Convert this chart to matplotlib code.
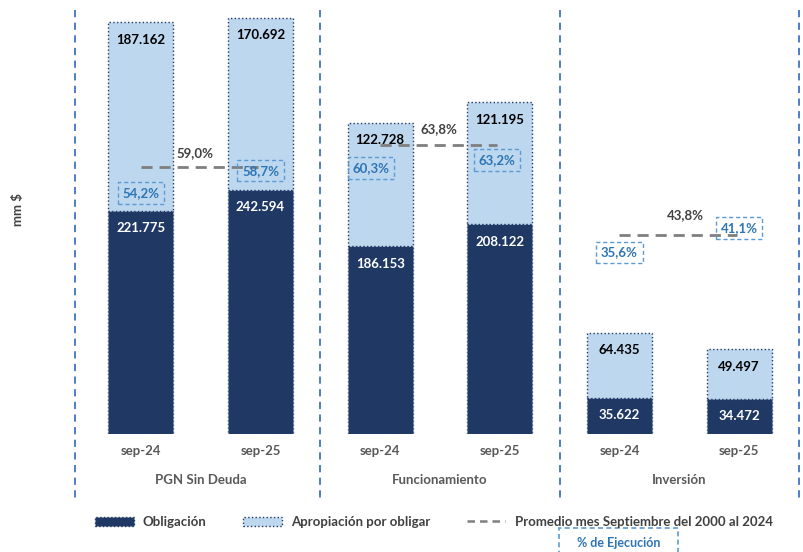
import matplotlib
matplotlib.use("Agg")
import matplotlib.pyplot as plt
from matplotlib.patches import Patch, Rectangle
from matplotlib.lines import Line2D
import matplotlib.transforms as mtransforms

plt.rcParams['font.family'] = ['Lato', 'DejaVu Sans']

# ---- data ----
groups = ["PGN Sin Deuda", "Funcionamiento", "Inversión"]
periods = ["sep-24", "sep-25", "sep-24", "sep-25", "sep-24", "sep-25"]
obligacion = [221775, 242594, 186153, 208122, 35622, 34472]
apropiacion = [187162, 170692, 122728, 121195, 64435, 49497]
ejecucion = [54.2, 58.7, 60.3, 63.2, 35.6, 41.1]
promedio = [59.0, 63.8, 43.8]
avg_labels = ["59,0%", "63,8%", "43,8%"]

# ---- style ----
NAVY = "#1F3864"
LIGHT = "#BDD7EE"
PCT = "#2E75B6"
PCT_EDGE = "#5B9BD5"
GRAY = "#7F7F7F"
SEP = "#4472C4"
TXT = "#404040"
TICK = "#595959"

W, H = 804, 552
BASE = 433.7
fig = plt.figure(figsize=(W / 100, H / 100), dpi=100)
ax = fig.add_axes([75 / W, (H - BASE) / H, (799 - 75) / W, (BASE - 10) / H])
ax.set_xlim(-0.55, 5.5)
ax.set_ylim(0, (BASE - 10) / 1.006 * 1000)
for s in ax.spines.values():
    s.set_visible(False)
ax.tick_params(axis='both', length=0)
ax.set_yticks([])

x = list(range(len(periods)))
bw = 0.543
tops = [o + a for o, a in zip(obligacion, apropiacion)]
ax.bar(x, obligacion, width=bw, color=NAVY, edgecolor="#3A5588", linestyle=':', linewidth=1.0, zorder=2)
ax.bar(x, apropiacion, bottom=obligacion, width=bw, color=LIGHT, edgecolor=NAVY,
       linestyle=':', linewidth=1.0, zorder=2)

def fmt(v):
    return f"{v:,}".replace(",", ".")

for xi, o, t, a in zip(x, obligacion, tops, apropiacion):
    ax.annotate(fmt(o), (xi, o), xytext=(0, -12.5), textcoords='offset points',
                ha='center', va='center', color='white', fontsize=9.5, fontweight='bold', zorder=5)
    ax.annotate(fmt(a), (xi, t), xytext=(0, -12.5), textcoords='offset points',
                ha='center', va='center', color='black', fontsize=9.5, fontweight='bold', zorder=5)

ax.set_xticks(x)
ax.set_xticklabels(periods, fontsize=9.5, fontweight='bold', color=TICK)
ax.tick_params(axis='x', pad=8)

# group labels
for gi, g in enumerate(groups):
    ax.annotate(g, (2 * gi + 0.5, 0), xycoords=('data', 'axes fraction'),
                xytext=(0, -33), textcoords='offset points', ha='center', va='center',
                fontsize=9.5, fontweight='bold', color=TICK)

# separators
trans = mtransforms.blended_transform_factory(ax.transData, ax.transAxes)
for sx in [-0.55, 1.5, 3.5, 5.5]:
    ax.plot([sx, sx], [1.0, -(500 - BASE) / (BASE - 10)], transform=trans, clip_on=False,
            color=SEP, linestyle=(0, (4, 3)), linewidth=1.3, zorder=1)

# secondary axis for percentages
ax2 = ax.twinx()
ax2.set_ylim(-(BASE - 432.1) / 4.5, (432.1 - 10) / 4.5)
ax2.set_yticks([])
for s in ax2.spines.values():
    s.set_visible(False)

avg_dx = [-3, 0, 5]
avg_dy = [10, 11.5, 14]
for gi, p in enumerate(promedio):
    ax2.plot([2 * gi, 2 * gi + 0.98], [p, p], color=GRAY, linestyle=(0, (4, 2.5)), linewidth=2.0, zorder=3)
    ax2.annotate(avg_labels[gi], (2 * gi + 0.49, p), xytext=(avg_dx[gi], avg_dy[gi]),
                 textcoords='offset points', ha='center', va='center', fontsize=9.5,
                 fontweight='bold', color=TXT)

dx = [0, 0, -6.5, -2, 0, 0]
dy = [-3.5, -1.9, -5.2, -8.9, 14.0, 13.8]
for xi, p, ox, oy in zip(x, ejecucion, dx, dy):
    ax2.annotate(f"{p:.1f}".replace(".", ",") + "%", (xi, p), xytext=(ox, oy),
                 textcoords='offset points', ha='center', va='center', fontsize=9.5,
                 fontweight='bold', color=PCT, zorder=6,
                 bbox=dict(boxstyle='square,pad=0.35', facecolor='none', edgecolor=PCT_EDGE,
                           linestyle=(0, (3, 2)), linewidth=1.0))

# y label
fig.text(18 / W, 1 - 210 / H, "mm $", rotation=90, ha='center', va='center',
         fontsize=9.5, fontweight='bold', color=TXT)

# legend
handles = [Patch(facecolor=NAVY, edgecolor=NAVY, linestyle=':'),
           Patch(facecolor=LIGHT, edgecolor=NAVY, linestyle=':'),
           Line2D([0], [0], color=GRAY, linestyle=(0, (3, 2)), linewidth=1.8)]
labels = ["Obligación", "Apropiación por obligar", "Promedio mes Septiembre del 2000 al 2024"]
leg = fig.legend(handles, labels, loc='center', bbox_to_anchor=(434 / W, 1 - 522 / H), ncol=3,
                 frameon=False, fontsize=9.5, handlelength=2.9, handleheight=0.7,
                 columnspacing=2.8, handletextpad=0.7)
for t in leg.get_texts():
    t.set_color(TXT)
    t.set_fontweight('bold')

fig.text(619 / W, 1 - 543 / H, "% de Ejecución", ha='center', va='center', fontsize=9,
         fontweight='bold', color=PCT)
fig.patches.append(Rectangle((559 / W, 1 - 560 / H), 119 / W, 31.7 / H, transform=fig.transFigure,
                             facecolor='none', edgecolor=PCT_EDGE, linestyle=(0, (3, 2)),
                             linewidth=1.2))

fig.savefig("out.png", dpi=100)
